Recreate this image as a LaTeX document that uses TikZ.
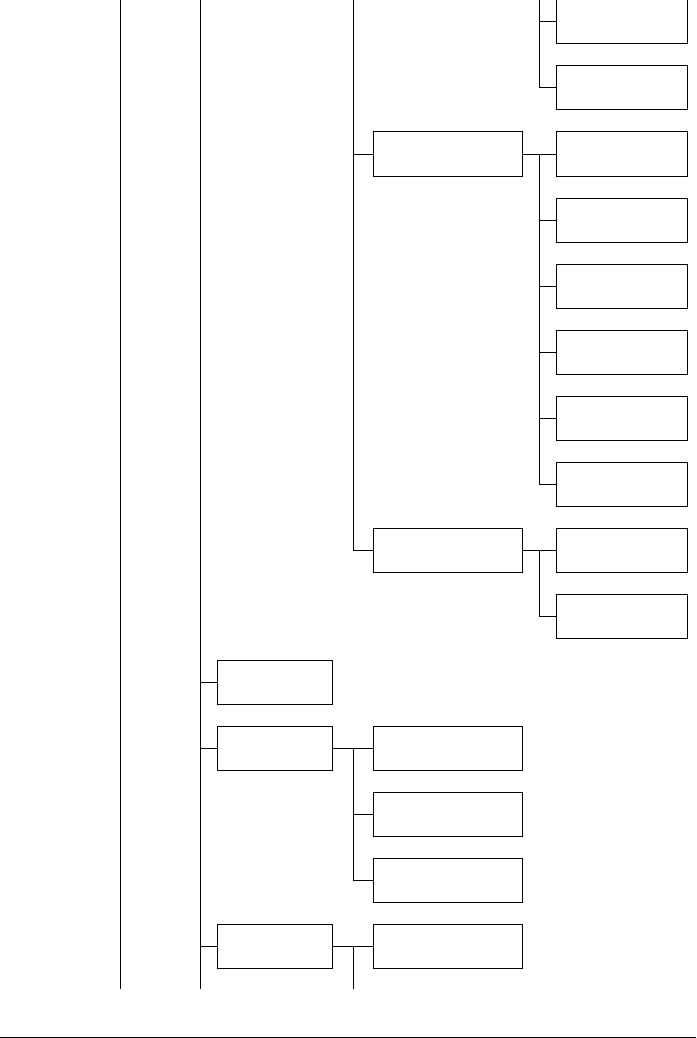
\documentclass[tikz,border=0pt]{standalone}
\usetikzlibrary{positioning}

\tikzset{
  leaf/.style={draw, line width=1pt, minimum width=131pt, minimum height=44pt, inner sep=0pt},
  midbox/.style={draw, line width=1pt, minimum width=149pt, minimum height=44pt, inner sep=0pt},
  topbox/.style={draw, line width=1pt, minimum width=115pt, minimum height=44pt, inner sep=0pt},
  link/.style={line width=1pt}
}

\begin{document}
\begin{tikzpicture}[x=1pt,y=-1pt]
  \useasboundingbox (0,0) rectangle (696,1038);

  % right column
  \foreach \n/\y in {a/22,b/88,c/154,d/220,e/286,f/352,g/418,h/484,i/550,j/616}
    \node[leaf] (r\n) at (622,\y) {};

  % middle column, upper part
  \node[midbox] (m1) at (448,154) {};
  \node[midbox] (m2) at (448,550) {};

  % second column
  \node[topbox] (s1) at (274.8,682) {};
  \node[topbox] (s2) at (274.8,748) {};
  \node[topbox] (s3) at (274.8,946) {};

  % middle column, lower part
  \node[midbox] (k1) at (448,748) {};
  \node[midbox] (k2) at (448,814) {};
  \node[midbox] (k3) at (448,880) {};
  \node[midbox] (k4) at (448,946) {};

  \coordinate (t1) at (120.3,0);
  \coordinate (b1) at (120.3,989);
  \coordinate (t2) at (200.3,0);
  \coordinate (b2) at (200.3,989);
  \coordinate (t3) at (353,0);
  \coordinate (t4) at (539,0);
  \coordinate (j1) at (539,154);
  \coordinate (j2) at (539,550);
  \coordinate (j3) at (353,748);
  \coordinate (j4) at (353,946);

  \draw[line width=0.7pt] (t1) -- (b1);
  \draw[link] (t2) -- (b2);

  \draw[link] (t4) |- (ra.west);
  \draw[link] (t4) |- (rb.west);

  \draw[link] (t3) |- (m1.west);
  \draw[link] (t3) |- (m2.west);

  \draw[link] (m1.east) -- (rc.west);
  \foreach \n in {d,e,f,g,h}
    \draw[link] (j1) |- (r\n.west);

  \draw[link] (m2.east) -- (ri.west);
  \draw[link] (j2) |- (rj.west);

  \foreach \n in {s1,s2,s3}
    \draw[link] (\n.west) -- (\n.west -| t2);

  \draw[link] (s2.east) -- (k1.west);
  \draw[link] (j3) |- (k2.west);
  \draw[link] (j3) |- (k3.west);

  \draw[link] (s3.east) -- (k4.west);
  \draw[link] (j4) -- (j4 |- b2);

  \draw[link] (0,1037) -- (696,1037);
\end{tikzpicture}
\end{document}
